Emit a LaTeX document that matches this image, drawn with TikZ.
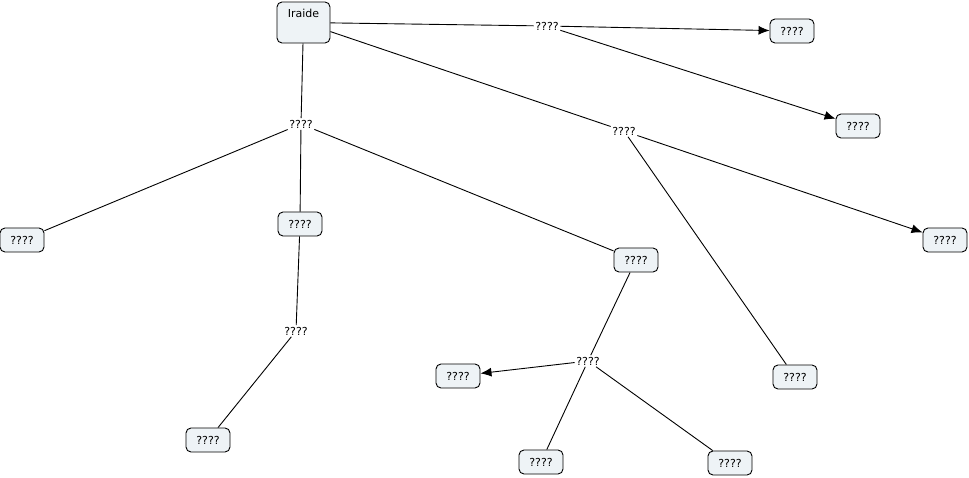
\documentclass[tikz,border=0pt]{standalone}
\usepackage{fontspec}
\setmainfont{DejaVu Sans}
\usetikzlibrary{arrows.meta}
\definecolor{conceptfill}{RGB}{238,243,246}
\begin{document}
\begin{tikzpicture}[x=1pt, y=-1pt,
        every node/.style={font=\fontsize{11}{13}\selectfont},
        concept/.style={draw, line width=0.9pt, rounded corners=5pt, fill=conceptfill, minimum width=44pt, minimum height=24pt, inner sep=2pt},
        linklabel/.style={inner sep=1.5pt},
        link/.style={line width=0.9pt},
        linkarrow/.style={line width=0.9pt, -{Latex[length=11pt, width=9pt]}}]
        \useasboundingbox (0, 0) rectangle (969, 478);

        % Concepto principal
        \node[concept, minimum width=53pt, minimum height=41pt, text height=8pt, text depth=18pt] (iraide) at (303.5, 22.5) {Iraide};

        % Conceptos
        \node[concept] (c1) at (792, 31) {????};
        \node[concept] (c2) at (858, 126) {????};
        \node[concept] (c3) at (945, 240) {????};
        \node[concept] (c4) at (22, 240) {????};
        \node[concept] (c5) at (300, 224) {????};
        \node[concept] (c6) at (636, 260) {????};
        \node[concept] (c7) at (458, 376) {????};
        \node[concept] (c8) at (795, 377) {????};
        \node[concept] (c9) at (208, 440) {????};
        \node[concept] (c10) at (541, 462) {????};
        \node[concept] (c11) at (730, 463) {????};

        % Palabras de enlace
        \node[linklabel] (l1) at (547, 26) {????};
        \node[linklabel] (l2) at (301, 124) {????};
        \node[linklabel] (l3) at (624, 131) {????};
        \node[linklabel] (l4) at (296, 331) {????};
        \node[linklabel] (l5) at (588, 361) {????};

        % Enlaces desde Iraide
        \draw[link] (iraide) -- (l1);
        \draw[linkarrow] (l1) -- (c1);
        \draw[linkarrow] (l1) -- (c2);
        \draw[link] (iraide) -- (l3);
        \draw[linkarrow] (l3) -- (c3);
        \draw[link] (l3) -- (c8);
        \draw[link] (iraide) -- (l2);
        \draw[link] (l2) -- (c4);
        \draw[link] (l2) -- (c5);
        \draw[link] (l2) -- (c6);

        % Enlaces inferiores
        \draw[link] (c5) -- (l4);
        \draw[link] (l4) -- (c9);
        \draw[link] (c6) -- (l5);
        \draw[linkarrow] (l5) -- (c7);
        \draw[link] (l5) -- (c10);
        \draw[link] (l5) -- (c11);
    \end{tikzpicture}
\end{document}
